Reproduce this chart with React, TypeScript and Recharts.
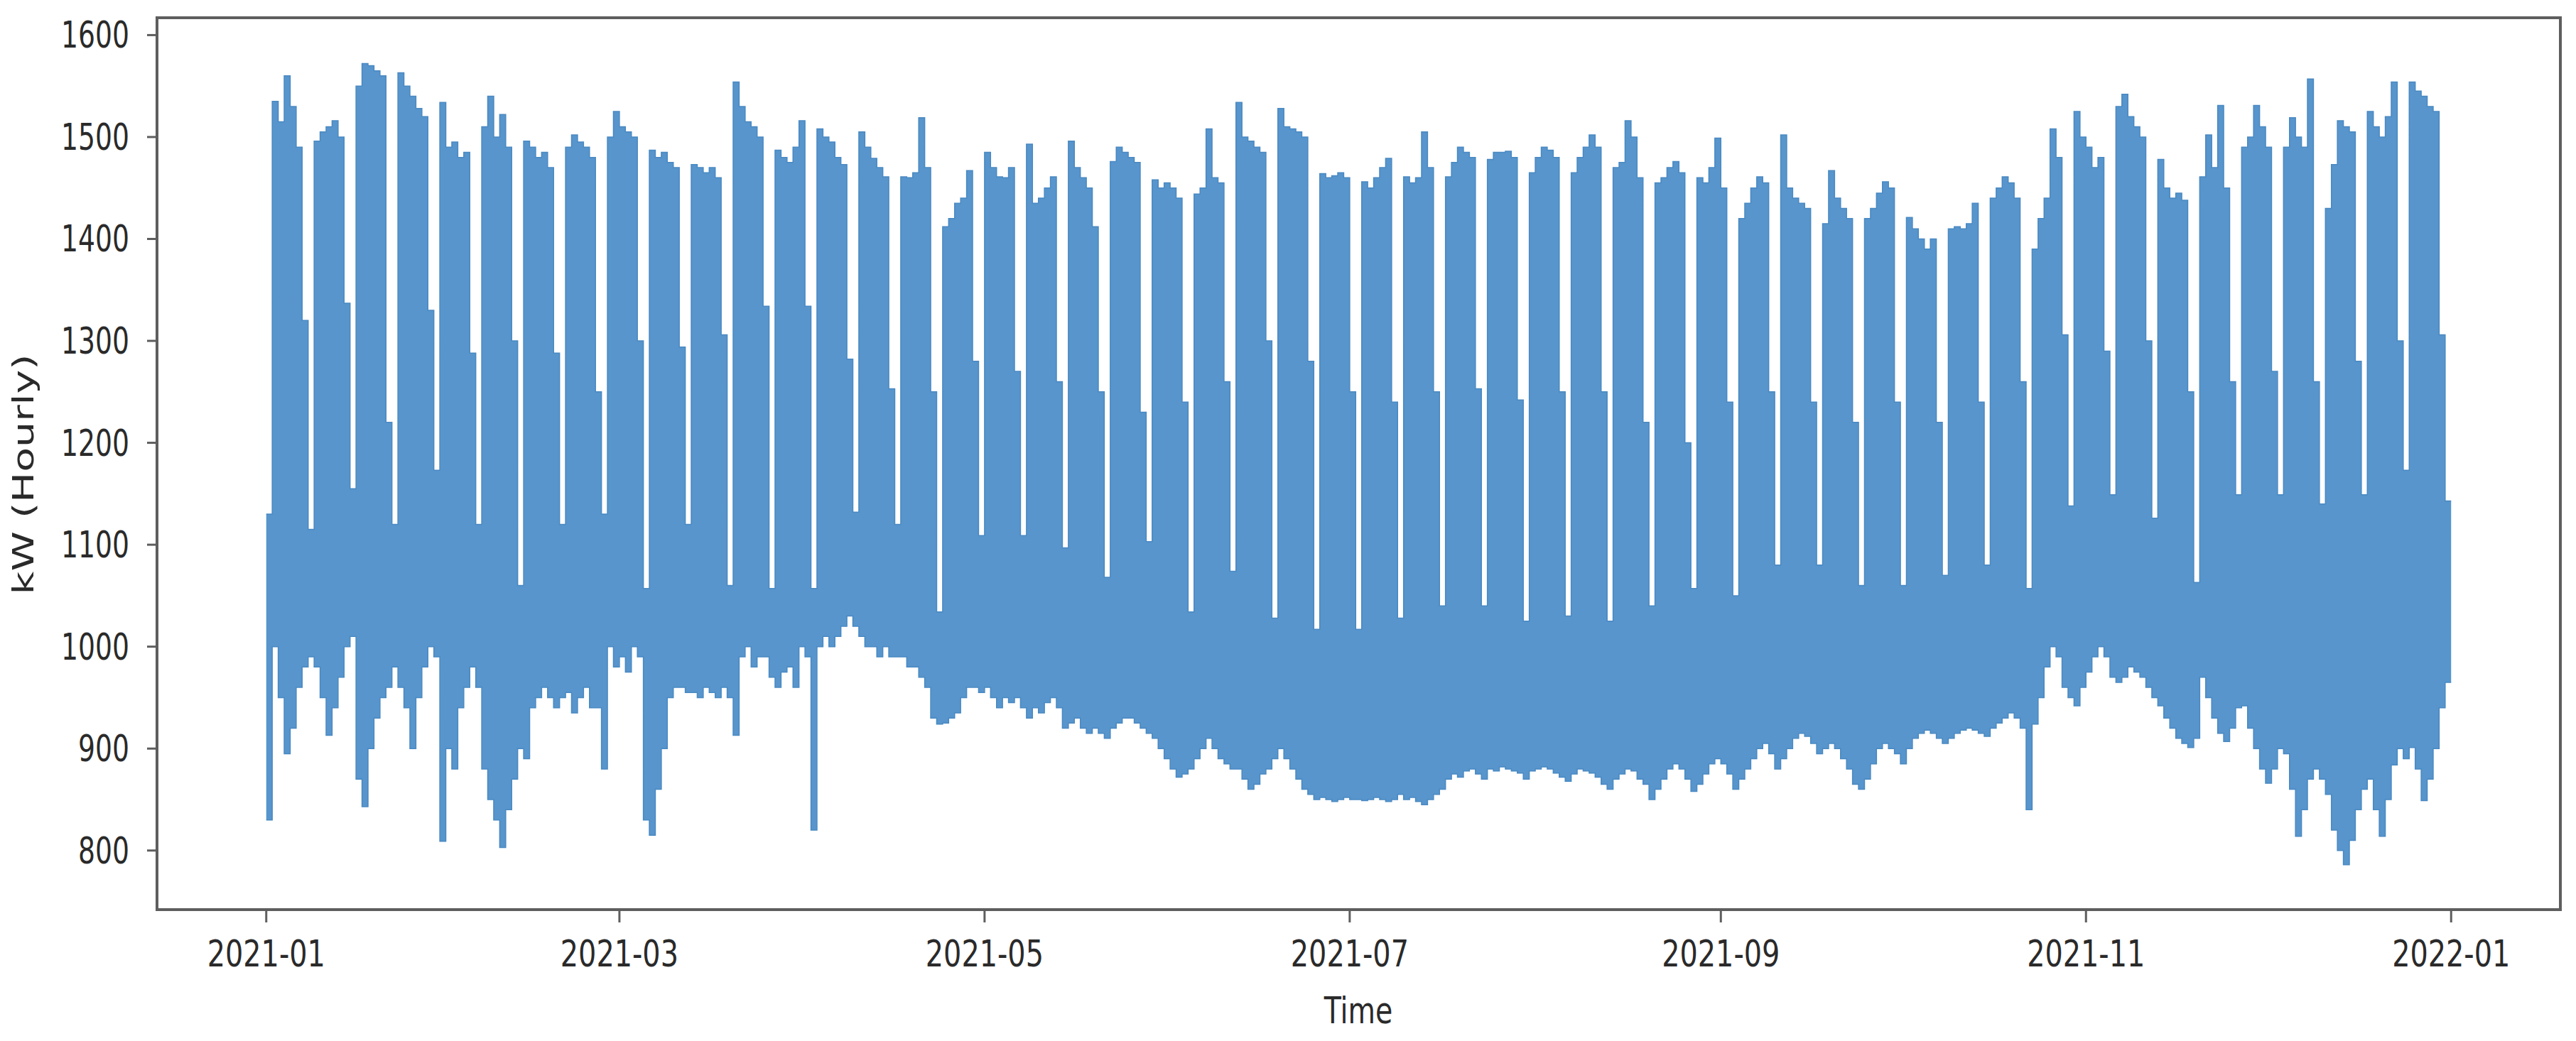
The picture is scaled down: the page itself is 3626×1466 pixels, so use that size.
import React from 'react';
import { ComposedChart, Area, XAxis, YAxis, ReferenceArea } from 'recharts';

const START = Date.UTC(2021, 0, 1);
const DAY = 86400000;

// Daily maximum kW, day 0 (2021-01-01) then one row per week (5 working days, Sat, Sun)
const dailyMax = [
  1130,
  1535, 1515, 1560, 1530, 1490, 1320, 1115,
  1496, 1505, 1510, 1516, 1500, 1337, 1155,
  1550, 1572, 1570, 1565, 1560, 1220, 1120,
  1563, 1550, 1540, 1528, 1520, 1330, 1173,
  1534, 1490, 1495, 1480, 1485, 1288, 1120,
  1510, 1540, 1500, 1522, 1490, 1300, 1060,
  1496, 1490, 1480, 1485, 1470, 1288, 1120,
  1490, 1502, 1495, 1490, 1480, 1250, 1130,
  1500, 1525, 1510, 1505, 1500, 1300, 1057,
  1487, 1480, 1485, 1475, 1470, 1294, 1120,
  1473, 1470, 1465, 1470, 1460, 1306, 1060,
  1554, 1530, 1515, 1510, 1500, 1334, 1057,
  1487, 1480, 1475, 1490, 1516, 1334, 1057,
  1508, 1500, 1495, 1480, 1473, 1282, 1132,
  1505, 1490, 1479, 1470, 1461, 1253, 1120,
  1461, 1460, 1465, 1519, 1470, 1250, 1034,
  1412, 1420, 1435, 1440, 1467, 1280, 1109,
  1485, 1470, 1461, 1460, 1470, 1270, 1109,
  1493, 1435, 1440, 1450, 1461, 1260, 1097,
  1496, 1470, 1460, 1450, 1412, 1250, 1068,
  1476, 1490, 1485, 1480, 1475, 1230, 1103,
  1458, 1450, 1455, 1450, 1440, 1240, 1034,
  1444, 1450, 1508, 1460, 1455, 1260, 1074,
  1534, 1500, 1496, 1490, 1485, 1300, 1028,
  1528, 1510, 1508, 1505, 1500, 1280, 1017,
  1464, 1460, 1462, 1465, 1460, 1250, 1017,
  1456, 1450, 1460, 1470, 1479, 1240, 1028,
  1461, 1455, 1460, 1505, 1470, 1250, 1040,
  1461, 1475, 1490, 1485, 1480, 1253, 1040,
  1478, 1485, 1485, 1486, 1480, 1242, 1025,
  1465, 1480, 1490, 1487, 1480, 1250, 1030,
  1465, 1480, 1490, 1502, 1490, 1250, 1025,
  1470, 1475, 1516, 1500, 1460, 1220, 1040,
  1455, 1460, 1470, 1476, 1465, 1200, 1057,
  1460, 1455, 1470, 1499, 1450, 1240, 1050,
  1420, 1435, 1450, 1461, 1455, 1250, 1080,
  1502, 1450, 1440, 1435, 1430, 1240, 1080,
  1415, 1467, 1440, 1430, 1420, 1220, 1060,
  1420, 1430, 1445, 1456, 1450, 1240, 1060,
  1421, 1410, 1400, 1390, 1400, 1220, 1070,
  1410, 1412, 1410, 1415, 1435, 1240, 1080,
  1440, 1450, 1461, 1455, 1440, 1260, 1057,
  1390, 1420, 1440, 1508, 1480, 1306, 1138,
  1525, 1500, 1490, 1470, 1480, 1290, 1149,
  1530, 1542, 1520, 1510, 1500, 1300, 1126,
  1478, 1450, 1440, 1445, 1438, 1250, 1063,
  1461, 1502, 1470, 1531, 1450, 1260, 1149,
  1490, 1500, 1531, 1510, 1490, 1270, 1149,
  1490, 1519, 1500, 1490, 1557, 1260, 1140,
  1430, 1473, 1516, 1510, 1505, 1280, 1149,
  1525, 1510, 1500, 1520, 1554, 1300, 1173,
  1554, 1545, 1540, 1530, 1525, 1306, 1143,
];

// Daily minimum kW, same layout
const dailyMin = [
  830,
  1000, 950, 895, 920, 960, 980, 990,
  980, 950, 913, 940, 970, 1000, 1010,
  870, 843, 900, 930, 950, 960, 980,
  960, 940, 900, 950, 980, 1000, 990,
  809, 900, 880, 940, 960, 980, 960,
  880, 850, 830, 803, 840, 870, 900,
  890, 940, 950, 960, 950, 940, 950,
  955, 935, 950, 960, 940, 940, 880,
  1000, 980, 990, 975, 1000, 990, 830,
  815, 860, 900, 950, 960, 960, 955,
  955, 950, 960, 955, 950, 960, 950,
  913, 990, 1000, 980, 990, 990, 970,
  960, 975, 980, 960, 1000, 990, 820,
  1000, 1010, 1000, 1010, 1020, 1030, 1020,
  1010, 1000, 1000, 990, 1000, 990, 990,
  990, 980, 980, 970, 960, 930, 924,
  925, 930, 935, 950, 960, 960, 955,
  960, 950, 940, 950, 945, 950, 940,
  930, 940, 935, 945, 950, 940, 920,
  925, 930, 920, 915, 920, 915, 910,
  920, 925, 930, 930, 925, 920, 915,
  910, 900, 890, 880, 872, 875, 880,
  890, 900, 910, 900, 890, 885, 880,
  880, 870, 860, 865, 875, 880, 890,
  900, 890, 880, 870, 860, 855, 850,
  852, 850, 848, 850, 852, 850, 850,
  849, 850, 852, 850, 848, 850, 855,
  850, 852, 848, 845, 850, 855, 860,
  870, 875, 872, 878, 880, 875, 870,
  880, 878, 882, 880, 878, 876, 870,
  878, 880, 882, 880, 876, 872, 868,
  875, 880, 878, 876, 872, 865, 860,
  870, 875, 880, 878, 870, 865, 850,
  860, 870, 880, 885, 880, 870, 858,
  865, 875, 885, 890, 885, 875, 860,
  870, 880, 890, 900, 905, 895, 880,
  890, 900, 910, 915, 912, 905, 895,
  900, 905, 900, 890, 880, 865, 860,
  870, 885, 900, 905, 900, 895, 885,
  900, 910, 915, 918, 915, 910, 905,
  910, 915, 918, 920, 918, 915, 912,
  920, 925, 930, 935, 930, 920, 840,
  924, 950, 980, 1000, 990, 960, 950,
  942, 960, 975, 990, 1000, 990, 970,
  965, 970, 980, 975, 970, 960, 950,
  942, 930, 920, 910, 905, 901, 910,
  970, 950, 930, 915, 907, 920, 940,
  942, 920, 900, 880, 866, 880, 900,
  895, 860, 814, 840, 870, 880, 870,
  855, 820, 800, 786, 810, 840, 860,
  870, 840, 814, 850, 884, 900, 890,
  901, 880, 849, 870, 900, 940, 965,
];

const xTickLabels = ['2021-01', '2021-03', '2021-05', '2021-07', '2021-09', '2021-11', '2022-01'];
const yTicks = [800, 900, 1000, 1100, 1200, 1300, 1400, 1500, 1600];

const xTicks = xTickLabels.map((s) => {
  const [y, m] = s.split('-').map(Number);
  return Date.UTC(y, m - 1, 1);
});

const data = dailyMax.map((mx, i) => ({ t: START + i * DAY, kw: [dailyMin[i], mx] }));
// close the last day's step at the end of the series
data.push({ t: START + dailyMax.length * DAY, kw: [dailyMin[dailyMin.length - 1], dailyMax[dailyMax.length - 1]] });

const span = dailyMax.length * DAY;
const xDomain = [START - 0.05 * span, START + span + 0.05 * span];
const yDomain = [742, 1617];

const FONT = 'DejaVu Sans, Arial, sans-serif';
const TXT = '#2a2a2a';
const SPINE = '#5e5e5e';

const fmtMonth = (v: number) => {
  const d = new Date(v);
  return `${d.getUTCFullYear()}-${String(d.getUTCMonth() + 1).padStart(2, '0')}`;
};

const YTick = (props: any) => {
  const { x, y, payload } = props;
  return (
    <text
      transform={`translate(${x},${y + 18}) scale(0.74,1)`}
      textAnchor="end"
      fontSize={51}
      fontFamily={FONT}
      fill={TXT}
    >
      {payload.value}
    </text>
  );
};

const XTick = (props: any) => {
  const { x, y, payload } = props;
  return (
    <text
      transform={`translate(${x},${y + 62}) scale(0.78,1)`}
      textAnchor="middle"
      fontSize={51}
      fontFamily={FONT}
      fill={TXT}
    >
      {fmtMonth(payload.value)}
    </text>
  );
};

export default function App() {
  return (
    <div style={{ position: 'absolute', left: 0, top: 0, width: 3626, height: 1466, background: '#ffffff' }}>
      <ComposedChart
        width={3626}
        height={1466}
        data={data}
        margin={{ top: 25, right: 22, bottom: 0, left: 0 }}
      >
        <XAxis
          dataKey="t"
          type="number"
          domain={xDomain}
          ticks={xTicks}
          allowDataOverflow
          height={185}
          tick={<XTick />}
          tickSize={18}
          tickMargin={0}
          axisLine={{ stroke: SPINE, strokeWidth: 4 }}
          tickLine={{ stroke: SPINE, strokeWidth: 3 }}
          label={{
            content: () => (
              <text
                transform="translate(1912,1441) scale(0.76,1)"
                textAnchor="middle"
                fontSize={52}
                fontFamily={FONT}
                fill={TXT}
              >
                Time
              </text>
            ),
          }}
        />
        <YAxis
          type="number"
          domain={yDomain}
          ticks={yTicks}
          allowDataOverflow
          width={221}
          tick={<YTick />}
          tickSize={14}
          tickMargin={25}
          axisLine={{ stroke: SPINE, strokeWidth: 4 }}
          tickLine={{ stroke: SPINE, strokeWidth: 3 }}
          label={{
            content: () => (
              <text
                transform="translate(47,668) rotate(-90) scale(1,0.72)"
                textAnchor="middle"
                fontSize={57}
                fontFamily={FONT}
                fill={TXT}
              >
                kW (Hourly)
              </text>
            ),
          }}
        />
        <Area
          type="stepAfter"
          dataKey="kw"
          stroke="#4a89c2"
          strokeWidth={1.5}
          fill="#5795cc"
          fillOpacity={1}
          dot={false}
          activeDot={false}
          isAnimationActive={false}
        />
        <ReferenceArea
          x1={xDomain[0]}
          x2={xDomain[1]}
          y1={yDomain[0]}
          y2={yDomain[1]}
          fill="none"
          fillOpacity={0}
          stroke={SPINE}
          strokeWidth={4}
          ifOverflow="visible"
        />
      </ComposedChart>
    </div>
  );
}
